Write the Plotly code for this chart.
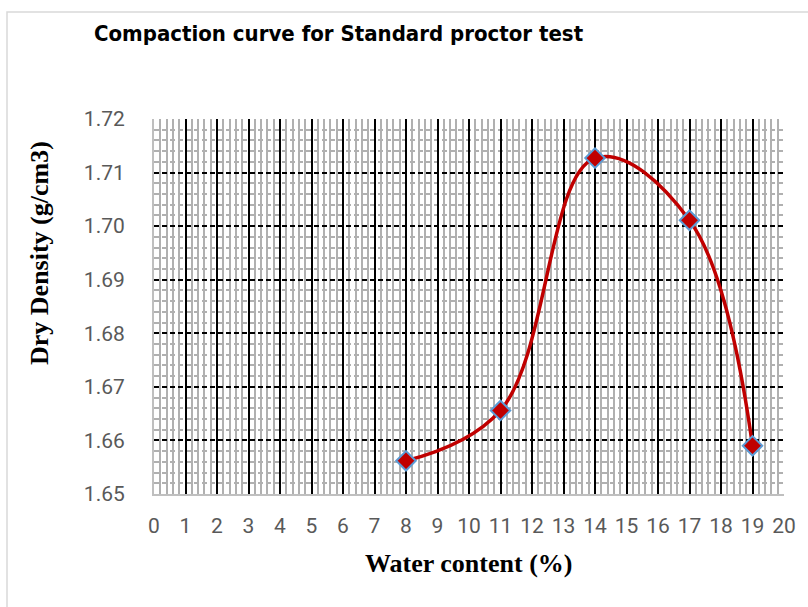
import plotly.graph_objects as go

water_content = [8, 11, 14, 17, 19]
dry_density = [1.6562, 1.6656, 1.7127, 1.7011, 1.6590]
x_ticks = list(range(0, 21))
y_ticks = [1.65, 1.66, 1.67, 1.68, 1.69, 1.70, 1.71, 1.72]

W, H = 808, 607
L, R, T, B = 154, 24, 119, 113
PW, PH = W - L - R, H - T - B

fig = go.Figure()
fig.add_trace(go.Scatter(
    x=water_content, y=dry_density, mode="lines+markers",
    line=dict(color="#C00000", width=3.5, shape="spline", smoothing=1.1),
    marker=dict(symbol="diamond", size=15, color="#C00000",
                line=dict(color="#5B9BD5", width=2)),
    showlegend=False, hoverinfo="x+y"))

tickfont = dict(family="Roboto", size=21, color="#595959")
fig.update_xaxes(
    range=[0, 20], tickvals=x_ticks, ticktext=[str(v) for v in x_ticks],
    showgrid=True, gridcolor="#000000", gridwidth=2,
    minor=dict(dtick=0.2, tick0=0, showgrid=True, gridcolor="#B0B0B0", gridwidth=2),
    showline=True, linecolor="#BFBFBF", linewidth=2, mirror=False,
    zeroline=False, ticks="", tickfont=tickfont, ticklabelstandoff=12)
fig.update_yaxes(
    range=[1.65, 1.72], tickvals=y_ticks, tickformat=".2f",
    showgrid=True, gridcolor="#000000", gridwidth=2, griddash="5px,3px",
    minor=dict(dtick=0.002, tick0=1.65, showgrid=True, gridcolor="#B0B0B0", gridwidth=2),
    showline=True, linecolor="#BFBFBF", linewidth=2, mirror=False,
    zeroline=False, ticks="", tickfont=tickfont, ticklabelstandoff=23)

fig.update_layout(
    width=W, height=H,
    margin=dict(l=L, r=R, t=T, b=B),
    paper_bgcolor="white", plot_bgcolor="white",
    title=dict(text="<b>Compaction curve for Standard proctor test</b>",
               font=dict(family="DejaVu Sans Condensed", size=22, color="#000000"),
               x=94 / W, xanchor="left", xref="container",
               y=1 - 33 / H, yanchor="middle", yref="container"),
    shapes=[dict(type="rect", xref="paper", yref="paper",
                 x0=(7 - L) / PW, x1=(W + 10 - L) / PW,
                 y0=-(B + 10) / PH, y1=(H - 12 - B) / PH,
                 line=dict(color="#D9D9D9", width=1.5), layer="below")],
    annotations=[
        dict(text="<b>Water content (%)</b>", xref="paper", yref="paper",
             x=(468 - L) / PW, y=-(563 - (H - B)) / PH,
             xanchor="center", yanchor="middle", showarrow=False,
             font=dict(family="Liberation Serif", size=26, color="#000000")),
        dict(text="<b>Dry Density (g/cm3)</b>", xref="paper", yref="paper",
             x=(40 - L) / PW, y=((H - B) - 253) / PH,
             xanchor="center", yanchor="middle", showarrow=False, textangle=-90,
             font=dict(family="Liberation Serif", size=26, color="#000000")),
    ],
)

fig.write_html("out.html", config={"displayModeBar": False},
               post_script="document.body.style.margin='0';")
